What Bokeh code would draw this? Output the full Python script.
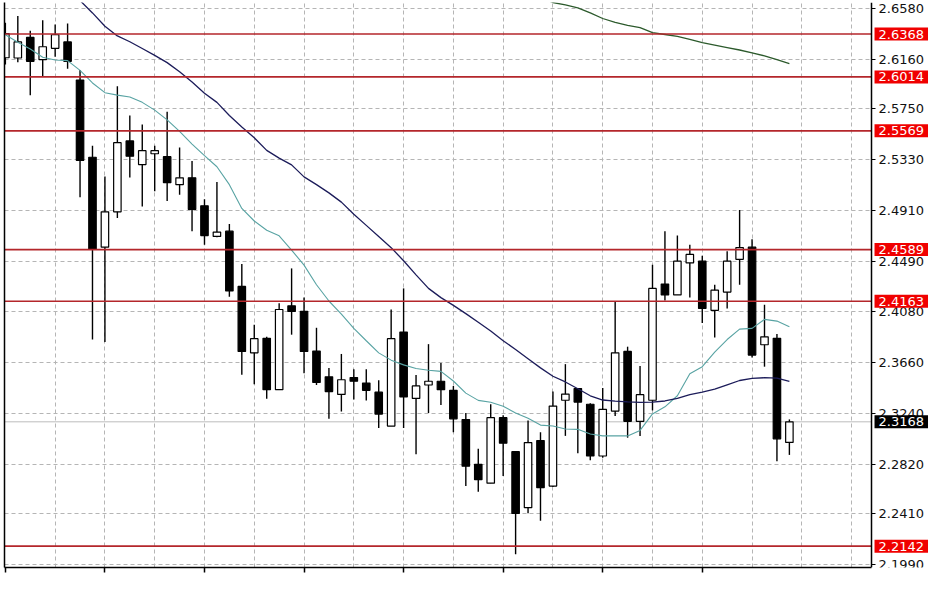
import numpy as np
from bokeh.plotting import figure
from bokeh.models import (Range1d, LinearAxis, FixedTicker, PrintfTickFormatter,
                          Label, ColumnDataSource)
from bokeh.embed import file_html
from bokeh.resources import INLINE

# ---------------- data (GBPNZD, Daily) ----------------
opens = [2.6172, 2.6170, 2.6340, 2.6156, 2.6250, 2.6303, 2.5988, 2.5351, 2.4609, 2.4901,
         2.5486, 2.5291, 2.5380, 2.5356, 2.5125, 2.5181, 2.4951, 2.4698, 2.4741, 2.4285,
         2.3737, 2.3857, 2.3433, 2.4125, 2.4079, 2.3752, 2.3539, 2.3394, 2.3533, 2.3488,
         2.3413, 2.3133, 2.3909, 2.3361, 2.3472, 2.3503, 2.3428, 2.3187, 2.2817, 2.2662,
         2.3202, 2.2922, 2.2460, 2.3013, 2.2638, 2.3346, 2.3443, 2.3313, 2.2886, 2.3257,
         2.3749, 2.3172, 2.3346, 2.4305, 2.4215, 2.4479, 2.4494, 2.4088, 2.4239, 2.4509,
         2.4609, 2.3804, 2.3857, 2.2998]
highs = [2.6460, 2.6516, 2.6394, 2.6482, 2.6446, 2.6454, 2.6072, 2.5447, 2.5192, 2.5937,
         2.5696, 2.5621, 2.5447, 2.5727, 2.5432, 2.5321, 2.5005, 2.5146, 2.4801, 2.4470,
         2.3968, 2.3869, 2.4146, 2.4434, 2.4194, 2.3944, 2.3613, 2.3728, 2.3602, 2.3602,
         2.3512, 2.4095, 2.4269, 2.3554, 2.3809, 2.3653, 2.3464, 2.3241, 2.2946, 2.3313,
         2.3223, 2.2922, 2.3178, 2.3082, 2.3418, 2.3644, 2.3448, 2.3322, 2.3448, 2.4158,
         2.3788, 2.3629, 2.4464, 2.4741, 2.4705, 2.4629, 2.4539, 2.4299, 2.4575, 2.4915,
         2.4674, 2.4134, 2.3893, 2.3188]
lows = [2.6116, 2.6135, 2.5863, 2.6015, 2.6180, 2.6082, 2.5021, 2.3848, 2.3827, 2.4849,
        2.5185, 2.4945, 2.5071, 2.4990, 2.5041, 2.4741, 2.4629, 2.4690, 2.4200, 2.3557,
        2.3479, 2.3358, 2.3433, 2.3887, 2.3568, 2.3472, 2.3193, 2.3253, 2.3352, 2.3344,
        2.3117, 2.3133, 2.3117, 2.2901, 2.3241, 2.3307, 2.3082, 2.2638, 2.2592, 2.2662,
        2.2721, 2.2075, 2.2414, 2.2351, 2.2631, 2.3052, 2.2908, 2.2850, 2.2871, 2.3217,
        2.3037, 2.3052, 2.3262, 2.4170, 2.4215, 2.4194, 2.3983, 2.3863, 2.4103, 2.4299,
        2.3698, 2.3623, 2.2842, 2.2895]
closes = [2.6372, 2.6303, 2.6143, 2.6263, 2.6362, 2.6143, 2.5326, 2.4590, 2.4901, 2.5471,
          2.5360, 2.5405, 2.5405, 2.5141, 2.5181, 2.4921, 2.4705, 2.4734, 2.4248, 2.3749,
          2.3854, 2.3433, 2.4095, 2.4079, 2.3749, 2.3493, 2.3418, 2.3515, 2.3503, 2.3428,
          2.3232, 2.3854, 2.3373, 2.3464, 2.3503, 2.3433, 2.3193, 2.2802, 2.2691, 2.3202,
          2.2992, 2.2412, 2.2997, 2.2625, 2.3298, 2.3397, 2.3331, 2.2886, 2.3271, 2.3737,
          2.3172, 2.3392, 2.4269, 2.4215, 2.4494, 2.4549, 2.4103, 2.4254, 2.4494, 2.4606,
          2.3719, 2.3869, 2.3028, 2.3168]

# moving averages
ma_fast = [2.6362, 2.6300, 2.6244, 2.6176, 2.6154, 2.6148, 2.6068, 2.5964, 2.5884, 2.5864,
           2.5848, 2.5804, 2.5740, 2.5660, 2.5564, 2.5460, 2.5364, 2.5273, 2.5125, 2.4929,
           2.4825, 2.4749, 2.4703, 2.4585, 2.4461, 2.4299, 2.4165, 2.4057, 2.3939, 2.3837,
           2.3737, 2.3677, 2.3638, 2.3608, 2.3593, 2.3584, 2.3505, 2.3405, 2.3345, 2.3330,
           2.3297, 2.3241, 2.3197, 2.3141, 2.3133, 2.3109, 2.3106, 2.3067, 2.3052, 2.3052,
           2.3052, 2.3097, 2.3233, 2.3292, 2.3383, 2.3565, 2.3623, 2.3743, 2.3847, 2.3933,
           2.3939, 2.4013, 2.3999, 2.3953]
ma_mid_start = 6
ma_mid = [2.6644, 2.6542, 2.6432, 2.6352, 2.6304, 2.6248, 2.6192, 2.6132, 2.6056, 2.5972,
          2.5880, 2.5804, 2.5696, 2.5600, 2.5512, 2.5408, 2.5344, 2.5288, 2.5189, 2.5125,
          2.5057, 2.4981, 2.4881, 2.4789, 2.4697, 2.4605, 2.4497, 2.4381, 2.4269, 2.4193,
          2.4129, 2.4061, 2.3989, 2.3917, 2.3837, 2.3765, 2.3689, 2.3613, 2.3544, 2.3497,
          2.3441, 2.3383, 2.3348, 2.3338, 2.3332, 2.3329, 2.3331, 2.3340, 2.3361, 2.3393,
          2.3413, 2.3437, 2.3473, 2.3509, 2.3527, 2.3532, 2.3529, 2.3501]
ma_long_start = 43
ma_long = [2.6668, 2.6628, 2.6608, 2.6584, 2.6542, 2.6496, 2.6464, 2.6440, 2.6420, 2.6380,
           2.6364, 2.6348, 2.6324, 2.6296, 2.6276, 2.6256, 2.6236, 2.6212, 2.6188, 2.6156,
           2.6124]

levels = [2.6368, 2.6014, 2.5569, 2.4589, 2.4163, 2.2142]
last_price = 2.3168
price_ticks = [2.6580, 2.6160, 2.5750, 2.5330, 2.4910, 2.4490, 2.4080,
               2.3660, 2.3240, 2.2820, 2.2410, 2.1990]

# ---------------- figure ----------------
n = len(opens)
idx = np.arange(n)
o = np.array(opens); c = np.array(closes)
src = ColumnDataSource(dict(
    x=idx, high=highs, low=lows,
    top=np.maximum(o, c), bottom=np.minimum(o, c),
    fill=np.where(c < o, "black", "white"),
))

X_START, X_AX, X_END = -0.07, 69.6, 74.5     # price scale sits at X_AX
Y_START, Y_END = 2.1966, 2.6628

p = figure(width=932, height=577, x_range=Range1d(X_START, X_END),
           y_range=Range1d(Y_START, Y_END), output_backend="svg",
           toolbar_location=None, x_axis_location=None, y_axis_location=None,
           min_border_left=4, min_border_top=2, min_border_bottom=10,
           min_border_right=0)
p.outline_line_color = None
p.background_fill_color = "white"
p.border_fill_color = "white"

# grids
p.xgrid.ticker = FixedTicker(ticks=list(range(4, 69, 4)))
p.ygrid.ticker = FixedTicker(ticks=price_ticks)
for g in (p.xgrid, p.ygrid):
    g.grid_line_color = "#b5b5b5"
    g.grid_line_dash = "4 3"
    g.grid_line_width = 1

# blank price-scale strip (hides grid beyond the scale line)
p.quad(left=[X_AX], right=[X_END], bottom=[Y_START], top=[Y_END],
       fill_color="white", line_color=None)

# axes
xaxis = LinearAxis(ticker=FixedTicker(ticks=list(range(0, 57, 8))),
                   bounds=(X_START, X_AX),
                   major_label_text_font_size="1px", major_label_text_color=None,
                   major_label_standoff=0,
                   major_tick_in=0, major_tick_out=5, minor_tick_in=0, minor_tick_out=0,
                   axis_line_color="black", axis_line_width=1.5,
                   major_tick_line_color="black", major_tick_line_width=1.5)
p.add_layout(xaxis, "below")

laxis = LinearAxis(ticker=FixedTicker(ticks=[]), major_label_text_font_size="1px",
                   major_label_text_color=None,
                   major_label_standoff=0, major_tick_in=0, major_tick_out=0,
                   minor_tick_in=0, minor_tick_out=0,
                   axis_line_color="black", axis_line_width=1.5)
p.add_layout(laxis, "left")

yaxis = LinearAxis(ticker=FixedTicker(ticks=price_ticks), fixed_location=X_AX,
                   formatter=PrintfTickFormatter(format="%.4f"),
                   major_label_text_font="DejaVu Sans", major_label_text_font_size="13px",
                   major_label_text_color="#111111", major_label_standoff=3,
                   major_tick_in=0, major_tick_out=4, minor_tick_in=0, minor_tick_out=0,
                   axis_line_color="black", axis_line_width=1.5,
                   major_tick_line_color="black")
p.add_layout(yaxis, "right")

# current price line
p.segment(x0=[X_START], y0=[last_price], x1=[X_AX], y1=[last_price],
          line_color="#bdbdbd", line_width=1)

# candles
p.segment(x0="x", y0="low", x1="x", y1="high", source=src, line_color="black",
          line_width=1.4)
p.vbar(x="x", width=0.6, top="top", bottom="bottom", source=src,
       fill_color="fill", line_color="black", line_width=1.2)

# moving averages
p.line(idx, ma_fast, line_color="#58a3a3", line_width=1.1)
p.line(np.arange(ma_mid_start, ma_mid_start + len(ma_mid)), ma_mid,
       line_color="#1c1c5a", line_width=1.3)
p.line(np.arange(ma_long_start, ma_long_start + len(ma_long)), ma_long,
       line_color="#2c5a2c", line_width=1.3)

# horizontal levels
p.segment(x0=[X_START] * len(levels), y0=levels, x1=[X_AX] * len(levels), y1=levels,
          line_color="#b4262b", line_width=1.6)

# price labels on the scale
for lv in levels:
    p.add_layout(Label(x=X_AX, y=lv, x_offset=3, text=f"{lv:.4f}",
                       text_color="white", text_font="DejaVu Sans",
                       text_font_size="13px", text_baseline="middle",
                       text_align="left", background_fill_color="#f00000",
                       padding=(4, 2)))
p.add_layout(Label(x=X_AX, y=last_price, x_offset=3, text=f"{last_price:.4f}",
                   text_color="white", text_font="DejaVu Sans",
                   text_font_size="13px", text_baseline="middle",
                   text_align="left", background_fill_color="black",
                   padding=(4, 2)))

open("out.html", "w").write(file_html(p, INLINE))
